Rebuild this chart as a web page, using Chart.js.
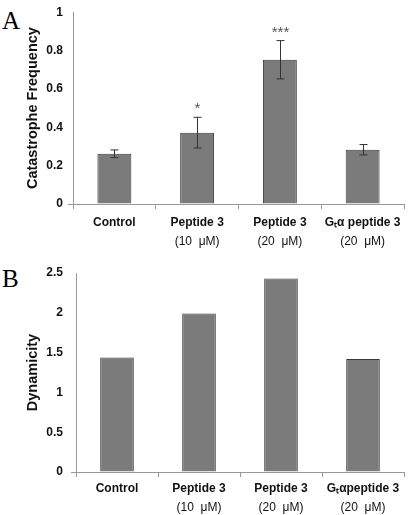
<!DOCTYPE html>
<html>
<head>
<meta charset="utf-8">
<script src="https://cdn.jsdelivr.net/npm/chart.js@4"></script>
<style>
  body { margin: 0; background: #fff; width: 416px; height: 515px; position: relative; overflow: hidden; }
  canvas { position: absolute; left: 0; }
  .letter { position: absolute; font-family: "Liberation Serif", "Times New Roman", serif; font-size: 25px; color: #000; line-height: 1; }
</style>
</head>
<body>
<div class="letter" style="left:2px; top:8px">A</div>
<div class="letter" style="left:2px; top:266px">B</div>
<canvas id="chartA" width="416" height="250" style="top:0"></canvas>
<canvas id="chartB" width="416" height="260" style="top:255px"></canvas>
<script>
const groupNames = ['Control', 'Peptide 3', 'Peptide 3', 'G\u209C\u03B1 peptide 3'];
const groupNamesB = ['Control', 'Peptide 3', 'Peptide 3', 'G\u209C\u03B1peptide 3'];
const concLabels = ['', '(10 \u00A0\u03BCM)', '(20 \u00A0\u03BCM)', '(20 \u00A0\u03BCM)'];

const catastropheFreq = [0.262, 0.372, 0.752, 0.283];
const catastropheErr = [0.02, 0.08, 0.1, 0.027];
const significance = ['', '*', '***', ''];

const dynamicity = [1.44, 1.99, 2.43, 1.42];

const FONT = '"Liberation Sans", Arial, sans-serif';
const AXIS_GREY = '#999';

function errorBarPlugin(errors, stars) {
  return {
    id: 'errorBars',
    afterDatasetsDraw(chart) {
      if (!errors) return;
      const ctx = chart.ctx;
      const y = chart.scales.y;
      const meta = chart.getDatasetMeta(0);
      const values = chart.data.datasets[0].data;
      ctx.save();
      ctx.strokeStyle = '#333';
      ctx.lineWidth = 1;
      meta.data.forEach((bar, i) => {
        const x = Math.round(bar.x) + 0.5;
        const top = y.getPixelForValue(values[i] + errors[i]);
        const bot = y.getPixelForValue(values[i] - errors[i]);
        ctx.beginPath();
        ctx.moveTo(x, top); ctx.lineTo(x, bot);
        ctx.moveTo(x - 4, top); ctx.lineTo(x + 4, top);
        ctx.moveTo(x - 4, bot); ctx.lineTo(x + 4, bot);
        ctx.stroke();
        if (stars && stars[i]) {
          ctx.fillStyle = '#555';
          ctx.font = '15px ' + FONT;
          ctx.textAlign = 'center';
          ctx.textBaseline = 'middle';
          ctx.fillText(stars[i], x, top - 8);
        }
      });
      ctx.restore();
    }
  };
}

function makeChart(id, cfg) {
  return new Chart(document.getElementById(id), {
    type: 'bar',
    data: {
      labels: cfg.names,
      datasets: [{
        data: cfg.values,
        backgroundColor: '#7b7b7b',
        borderColor: '#3a3a3a',
        borderWidth: 1,
        categoryPercentage: 1,
        barPercentage: 0.41
      }]
    },
    options: {
      responsive: false,
      animation: false,
      layout: { padding: { top: cfg.padTop, right: 12, left: 0, bottom: 0 } },
      plugins: { legend: { display: false }, tooltip: { enabled: false } },
      scales: {
        x: {
          type: 'category',
          position: 'bottom',
          weight: 0,
          offset: true,
          grid: { offset: true, drawOnChartArea: false, color: AXIS_GREY, tickLength: 5 },
          border: { color: AXIS_GREY },
          ticks: { font: { family: FONT, size: 12, weight: 'bold' }, color: '#111', padding: cfg.xPad, maxRotation: 0, autoSkip: false },
          afterFit(s) { s.height = cfg.xHeight; }
        },
        x2: {
          type: 'category',
          labels: concLabels,
          position: 'bottom',
          weight: 1,
          offset: true,
          grid: { display: false, drawTicks: false },
          border: { display: false },
          ticks: { font: { family: FONT, size: 12 }, color: '#111', padding: cfg.x2Pad, maxRotation: 0, autoSkip: false },
          afterFit(s) { s.height = cfg.x2Height; }
        },
        y: {
          min: 0,
          max: cfg.max,
          ticks: {
            stepSize: cfg.step,
            font: { family: FONT, size: 12, weight: 'bold' },
            color: '#111',
            padding: cfg.yPad,
            callback: v => String(+v.toFixed(2))
          },
          grid: {
            drawOnChartArea: false,
            tickLength: 5,
            color: c => (c.tick && c.tick.value === 0) ? AXIS_GREY : 'rgba(0,0,0,0)'
          },
          border: { color: AXIS_GREY },
          title: { display: true, text: cfg.title, font: { family: FONT, size: 14.5, weight: 'bold' }, color: '#111', padding: { top: 24, bottom: 0 } },
          afterFit(s) { s.width = cfg.yWidth; }
        }
      }
    },
    plugins: [errorBarPlugin(cfg.errors, cfg.stars)]
  });
}

makeChart('chartA', {
  names: groupNames, values: catastropheFreq, errors: catastropheErr, stars: significance,
  max: 1, step: 0.2, title: 'Catastrophe Frequency',
  padTop: 5, yWidth: 73, yPad: 5, xHeight: 28, xPad: 6, x2Height: 18, x2Pad: 2
});

makeChart('chartB', {
  names: groupNamesB, values: dynamicity,
  max: 2.5, step: 0.5, title: 'Dynamicity',
  padTop: 18, yWidth: 76, yPad: 8, xHeight: 26, xPad: 4, x2Height: 17, x2Pad: 2
});
</script>
</body>
</html>
